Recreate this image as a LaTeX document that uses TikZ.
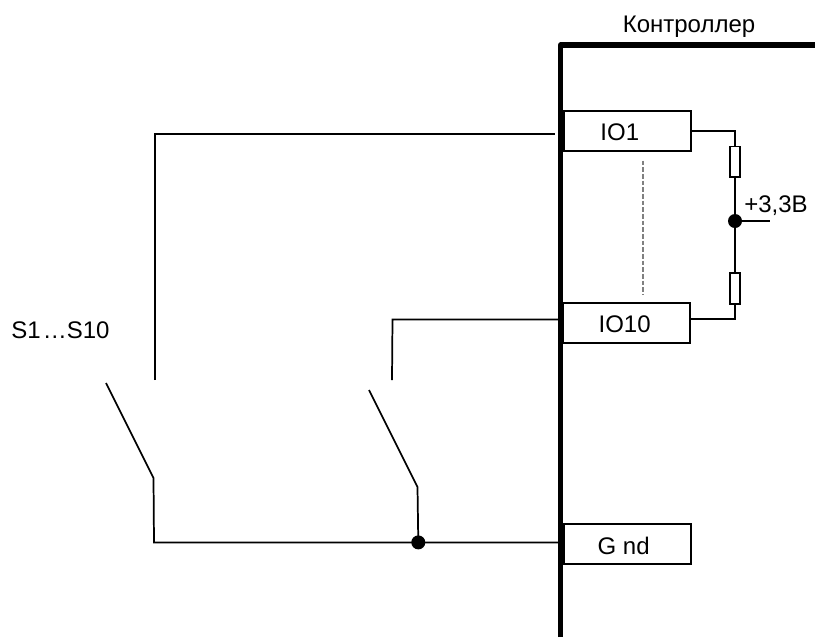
\documentclass[tikz,border=0pt]{standalone}
\usepackage{fontspec}
\setmainfont{Liberation Sans}
\tikzset{
  pin/.style={draw=black,line width=1.5pt,fill=white,minimum width=95.5pt,minimum height=30pt,inner sep=0pt,outer sep=0pt,anchor=north west,text height=15pt,text depth=0pt,font=\fontsize{18}{20}\selectfont},
  res/.style={draw=black,line width=1.1pt,fill=white,minimum width=7.6pt,minimum height=23.2pt,inner sep=0pt,outer sep=0pt},
  wire/.style={draw=black,line width=1.3pt},
  junction/.style={circle,fill=black,minimum size=10.5pt,inner sep=0pt},
  lbl/.style={inner sep=0pt,font=\fontsize{18}{20}\selectfont}
}
\begin{document}
\begin{tikzpicture}[x=0.75pt,y=-0.75pt]
\useasboundingbox (0,0) rectangle (815,637);
% controller outline
\coordinate (busB) at (560.7,637);
\coordinate (busC) at (560.7,45);
\coordinate (busE) at (815,45);
\draw[black,line width=4pt,line join=round] (busB) -- (busC) -- (busE);
% pins
\node[pin] (io1) at (563.5,110.5) {\hspace*{-11pt}IO1};
\node[pin,minimum width=95pt] (io10) at (563,302.5) {\hspace*{-2.5pt}IO10};
\node[pin] (gnd) at (564,524) {\hspace*{-6pt}G nd};
% labels
\node[lbl,anchor=base] (ctl) at (689,32) {Контроллер};
\node[lbl,anchor=base] (sw) at (60.5,338) {S1\kern1.5pt…S10};
\node[lbl,anchor=base west] (vcc) at (744,212) {+3,3В};
% pull-ups
\coordinate (c1) at (735,130.7);
\coordinate (c2) at (735,319);
\coordinate (tap) at (770,221);
\node[junction] (j1) at (735,221) {};
\node[res] (r1) at (735,161.7) {};
\node[res] (r2) at (735,288.5) {};
\draw[wire] (io1.east |- c1) -- (c1) -- (r1.north);
\draw[wire] (r1.south) -- (j1.center) -- (r2.north);
\draw[wire] (r2.south) -- (c2) -- (io10.east |- c2);
\draw[wire] (j1.center) -- (tap);
\coordinate (da) at (643,160.5);
\coordinate (db) at (643,295);
\draw[gray,line width=0.8pt,dash pattern=on 3.5pt off 1.5pt] (da) -- (db);
% switch 1
\coordinate (a1) at (155,380);
\coordinate (a2) at (155,134);
\coordinate (a3) at (554.5,134);
\draw[wire] (a1) -- (a2) -- (a3);
\coordinate (b1) at (106,383);
\coordinate (b2) at (153.5,478);
\coordinate (b3) at (154,542.5);
\coordinate (b4) at (558,542.5);
\draw[wire] (b1) -- (b2) -- (b3) -- (b4);
% switch 2
\coordinate (e1) at (392,380);
\coordinate (e2) at (392.5,319.5);
\coordinate (e3) at (558,319.5);
\draw[wire] (e1) -- (e2) -- (e3);
\node[junction] (j2) at (418.3,542.4) {};
\coordinate (f1) at (369,390);
\coordinate (f2) at (417.5,487);
\draw[wire] (f1) -- (f2) -- (j2.center);
\end{tikzpicture}
\end{document}
